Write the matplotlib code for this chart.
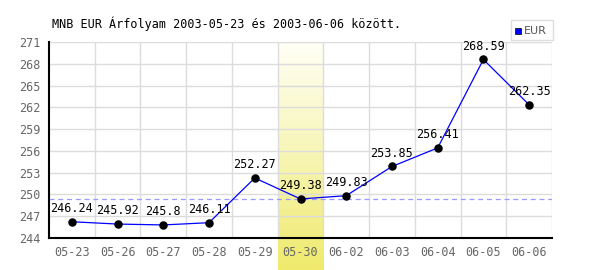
import matplotlib.pyplot as plt
import numpy as np
from matplotlib.colors import LinearSegmentedColormap
from matplotlib.patches import Rectangle

dates = ["05-23", "05-26", "05-27", "05-28", "05-29", "05-30",
         "06-02", "06-03", "06-04", "06-05", "06-06"]
rates = [246.24, 245.92, 245.8, 246.11, 252.27, 249.38,
         249.83, 253.85, 256.41, 268.59, 262.35]
labels = ["246.24", "245.92", "245.8", "246.11", "252.27", "249.38",
          "249.83", "253.85", "256.41", "268.59", "262.35"]
highlight = 5
yticks = [244, 247, 250, 253, 256, 259, 262, 265, 268, 271]

mono = "DejaVu Sans Mono"

fig = plt.figure(figsize=(6, 2.7), dpi=100)
ax = fig.add_axes([49 / 600, 1 - 238 / 270, 503 / 600, 196 / 270])

x = np.arange(len(dates))
ymin, ymax = 244, 271

# highlighted day: vertical yellow gradient, runs below the axis too
cmap = LinearSegmentedColormap.from_list("hl", ["#fffff6", "#f7f5b4", "#efea6c"])
grad = np.linspace(0, 1, 256).reshape(-1, 1)
px = (ymax - ymin) / 196
ax.imshow(grad, aspect="auto", cmap=cmap, origin="upper",
          extent=(highlight - 0.5, highlight + 0.5, ymin - 32 * px, ymax),
          clip_on=False, zorder=0)

ax.set_xlim(-0.5, len(dates) - 0.5)
ax.set_ylim(ymin, ymax)

for xv in np.arange(0.5, len(dates) - 0.5, 1):
    ax.axvline(xv, color="#dcdcdc", lw=1, zorder=1)
ax.axvline(len(dates) - 0.5, color="#dcdcdc", lw=1, zorder=1)
for yv in yticks[1:]:
    ax.axhline(yv, color="#dcdcdc", lw=1, zorder=1)

ax.axhline(rates[highlight], color="#9999ff", lw=0.9, ls=(0, (4, 3)), zorder=2)

ax.plot(x, rates, color="#0000ff", lw=0.9, zorder=3)
ax.scatter(x, rates, s=26, color="black", zorder=4)
for xi, yi, t in zip(x, rates, labels):
    ax.annotate(t, (xi, yi), xytext=(0, 5), textcoords="offset points",
                ha="center", va="bottom", fontsize=8.5, family=mono,
                color="black", zorder=5)

ax.set_xticks(x)
ax.set_xticklabels(dates)
ax.set_yticks(yticks)
ax.tick_params(length=0, labelsize=8.5, labelcolor="#666666", pad=6)
for lab in ax.get_xticklabels() + ax.get_yticklabels():
    lab.set_family(mono)

for s in ["top", "right"]:
    ax.spines[s].set_visible(False)
for s in ["left", "bottom"]:
    ax.spines[s].set_color("black")
    ax.spines[s].set_linewidth(1.5)
ax.set_facecolor("none")

fig.text(52 / 600, 1 - 24 / 270, "MNB EUR Árfolyam 2003-05-23 és 2003-06-06 között.",
         family=mono, fontsize=8.5, va="center", ha="left")

# legend box
fig.patches.append(Rectangle((511 / 600, 1 - 40 / 270), 42 / 600, 20 / 270,
                             transform=fig.transFigure, facecolor="white",
                             edgecolor="#dddddd", lw=1))
fig.patches.append(Rectangle((515 / 600, 1 - 34 / 270), 6 / 600, 6 / 270,
                             transform=fig.transFigure, facecolor="#0000ff",
                             edgecolor="black", lw=0.5))
fig.text(524 / 600, 1 - 30.5 / 270, "EUR", fontsize=8, color="#555555",
         va="center", ha="left")

fig.savefig("out.png", dpi=100)
